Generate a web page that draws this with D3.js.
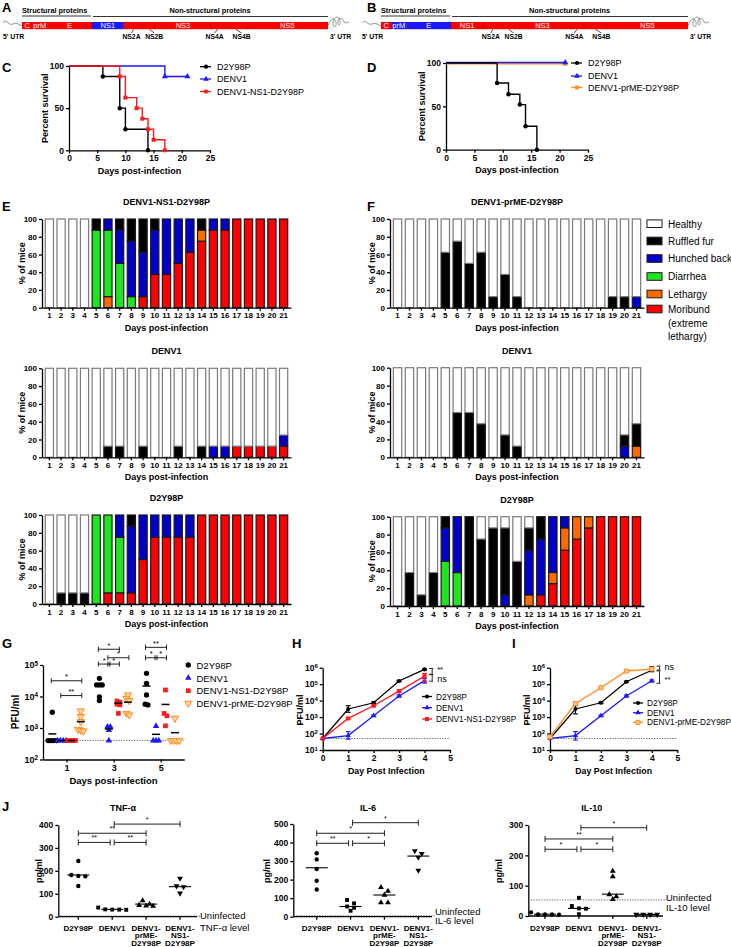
<!DOCTYPE html>
<html><head><meta charset="utf-8">
<script src="https://cdn.jsdelivr.net/npm/d3@7/dist/d3.min.js"></script>
<style>html,body{margin:0;padding:0;background:#fff;}svg{display:block;}</style>
</head><body>
<svg id="fig" width="731" height="947" xmlns="http://www.w3.org/2000/svg"></svg>
<script>
// ================= DATA =================
const genomeSegments = ["C","prM","E","NS1","NS2A","NS2B","NS3","NS4A","NS4B","NS5"];
const genomeLengths  = [114,166,495,352,218,130,619,150,248,900];

const survTicksX = [0,5,10,15,20,25];
const survTicksY = [0,50,100];
const survNamesC = ["D2Y98P","DENV1","DENV1-NS1-D2Y98P"];
const survNamesD = ["D2Y98P","DENV1","DENV1-prME-D2Y98P"];
const survDaysC_D2Y = [0,6,9,10,14];
const survPctC_D2Y  = [100,87.5,50,25,0];
const survDaysC_DENV1 = [0,17,21];
const survPctC_DENV1  = [100,87.5,87.5];
const survDaysC_NS1 = [0,9,10,12,13,14,15,17];
const survPctC_NS1  = [100,87.5,62.5,50,37.5,25,12.5,0];
const survDaysD_D2Y = [0,9,11,13,14,16];
const survPctD_D2Y  = [100,77,64,52,27,0];
const survDaysD_DENV1 = [0,21];
const survPctD_DENV1  = [100,100];
const survDaysD_prME = [0,21];
const survPctD_prME  = [100,100];

const days = [1,2,3,4,5,6,7,8,9,10,11,12,13,14,15,16,17,18,19,20,21];
const pctTicks = [0,20,40,60,80,100];
const symptomNames = ["Healthy","Ruffled fur","Hunched back","Diarrhea","Lethargy","Moribund"];
const stackTitlesE = ["DENV1-NS1-D2Y98P","DENV1","D2Y98P"];
const stackTitlesF = ["DENV1-prME-D2Y98P","DENV1","D2Y98P"];

// E: DENV1-NS1-D2Y98P
const eNS1_moribund = [0,0,0,0,0,0,0,0,12.5,37.5,37.5,50,62.5,75,87.5,87.5,100,100,100,100,100];
const eNS1_lethargy = [0,0,0,0,0,12.5,0,0,0,0,0,0,0,12.5,0,0,0,0,0,0,0];
const eNS1_diarrhea = [0,0,0,0,87.5,75,50,12.5,0,0,0,0,0,0,0,0,0,0,0,0,0];
const eNS1_hunched  = [0,0,0,0,0,12.5,37.5,62.5,50,50,62.5,50,37.5,0,12.5,12.5,0,0,0,0,0];
const eNS1_ruffled  = [0,0,0,0,12.5,0,12.5,25,37.5,12.5,0,0,0,12.5,0,0,0,0,0,0,0];
// E: DENV1
const eDENV1_moribund = [0,0,0,0,0,0,0,0,0,0,0,0,0,0,0,0,12.5,12.5,12.5,12.5,12.5];
const eDENV1_lethargy = [0,0,0,0,0,0,0,0,0,0,0,0,0,0,0,0,0,0,0,0,0];
const eDENV1_diarrhea = [0,0,0,0,0,0,0,0,0,0,0,0,0,0,0,0,0,0,0,0,0];
const eDENV1_hunched  = [0,0,0,0,0,0,0,0,0,0,0,0,0,0,12.5,12.5,0,0,0,0,12.5];
const eDENV1_ruffled  = [0,0,0,0,0,12.5,12.5,0,12.5,0,0,12.5,0,12.5,0,0,0,0,0,0,0];
// E: D2Y98P
const eD2Y_moribund = [0,0,0,0,0,12.5,12.5,12.5,50,75,75,75,75,100,100,100,100,100,100,100,100];
const eD2Y_lethargy = [0,0,0,0,0,0,0,0,0,0,0,0,0,0,0,0,0,0,0,0,0];
const eD2Y_diarrhea = [0,0,0,0,100,87.5,62.5,0,0,0,0,0,0,0,0,0,0,0,0,0,0];
const eD2Y_hunched  = [0,0,0,0,0,0,25,75,50,25,25,25,25,0,0,0,0,0,0,0,0];
const eD2Y_ruffled  = [0,12.5,12.5,12.5,0,0,0,12.5,0,0,0,0,0,0,0,0,0,0,0,0,0];
// F: DENV1-prME-D2Y98P
const fPrME_moribund = [0,0,0,0,0,0,0,0,0,0,0,0,0,0,0,0,0,0,0,0,0];
const fPrME_lethargy = [0,0,0,0,0,0,0,0,0,0,0,0,0,0,0,0,0,0,0,0,0];
const fPrME_diarrhea = [0,0,0,0,0,0,0,0,0,0,0,0,0,0,0,0,0,0,0,0,0];
const fPrME_hunched  = [0,0,0,0,0,0,0,0,0,0,0,0,0,0,0,0,0,0,0,0,12.5];
const fPrME_ruffled  = [0,0,0,0,62.5,75,50,62.5,12.5,37.5,12.5,0,0,0,0,0,0,0,12.5,12.5,0];
// F: DENV1
const fDENV1_moribund = [0,0,0,0,0,0,0,0,0,0,0,0,0,0,0,0,0,0,0,0,0];
const fDENV1_lethargy = [0,0,0,0,0,0,0,0,0,0,0,0,0,0,0,0,0,0,0,0,12.5];
const fDENV1_diarrhea = [0,0,0,0,0,0,0,0,0,0,0,0,0,0,0,0,0,0,0,0,0];
const fDENV1_hunched  = [0,0,0,0,0,0,0,0,0,0,0,0,0,0,0,0,0,0,0,12.5,0];
const fDENV1_ruffled  = [0,0,0,0,0,50,50,37.5,0,25,12.5,0,0,0,0,0,0,0,0,12.5,25];
// F: D2Y98P
const fD2Y_moribund = [0,0,0,0,0,0,0,0,0,0,0,0,12.5,25,62.5,75,87.5,100,100,100,100];
const fD2Y_lethargy = [0,0,0,0,0,0,0,0,0,0,0,12.5,0,12.5,25,25,12.5,0,0,0,0];
const fD2Y_diarrhea = [0,0,0,0,50,37.5,0,0,0,0,0,0,0,0,0,0,0,0,0,0,0];
const fD2Y_hunched  = [0,0,0,0,37.5,62.5,0,0,0,12.5,0,50,62.5,62.5,12.5,0,0,0,0,0,0];
const fD2Y_ruffled  = [0,37.5,12.5,37.5,12.5,0,100,75,87.5,75,50,25,25,0,0,0,0,0,0,0,0];

// G: viremia (PFU/ml) per day 1,3,5
const gDays = [1,3,5];
const gNames = ["D2Y98P","DENV1","DENV1-NS1-D2Y98P","DENV1-prME-D2Y98P"];
const gTicks = [1e2,1e3,1e4,1e5];
const gLOD = 400;
const gD2Y   = [[3160,400,400,400,400],[37800,23300,23300,23300,9800,7400],[54500,26300,11200,5700,5400]];
const gDENV1 = [[400,400,400,400],[1100,1100,860,400],[1150,400,400,400]];
const gNS1   = [[400,400,400,400],[7200,6600,5700,5400,2900],[16100,2900,2450,1170]];
const gPrME  = [[3460,2300,1590,900,850,800],[11200,8700,7400,2900,2600],[2040,400,400,400,400]];
const gMeanD2Y   = [650,23300,21500];
const gMeanDENV1 = [400,930,630];
const gMeanNS1   = [400,6100,5600];
const gMeanPrME  = [1590,6600,710];
// [day, series A, series B, PFU level, label]
const gSig = [[1,0,3,31600,"*"],[1,1,3,10700,"**"],[3,0,2,316000,"*"],[3,1,3,170000,"*"],
              [3,0,1,107000,"*"],[3,1,2,107000,"*"],[5,0,2,363000,"**"],[5,0,1,170000,"*"],[5,1,2,170000,"*"]];

// H / I: growth kinetics
const hDaysArr = [0,1,2,3,4];
const hTicksX = [0,1,2,3,4,5];
const hTicksY = [1e1,1e2,1e3,1e4,1e5,1e6];
const hLOD = 50;
const hD2Y    = [50,3100,7400,155000,790000];
const hD2YLo  = [50,1950,6600,140000,700000];
const hD2YHi  = [50,4900,8300,170000,880000];
const hDENV1   = [50,75,1200,19000,165000];
const hDENV1Lo = [50,45,1080,16500,115000];
const hDENV1Hi = [50,130,1330,22000,225000];
const hNS1    = [50,830,4900,38000,310000];
const hNS1Lo  = [50,740,4300,34000,140000];
const hNS1Hi  = [50,930,5500,42000,450000];
const hSig = [[900000,400000,"**"],[380000,150000,"ns"]];
const iD2Y    = [50,3100,7400,140000,700000];
const iD2YLo  = [50,1550,6600,125000,570000];
const iD2YHi  = [50,4900,8300,155000,1150000];
const iDENV1   = [50,75,1200,19000,160000];
const iDENV1Lo = [50,40,1080,16500,140000];
const iDENV1Hi = [50,130,1330,22000,180000];
const iPrME   = [62,6700,61000,630000,830000];
const iPrMELo = [55,5600,55000,580000,760000];
const iPrMEHi = [70,8000,67000,690000,910000];
const iSig = [[1250000,720000,"ns"],[640000,112000,"**"]];
const hNames = ["D2Y98P","DENV1","DENV1-NS1-D2Y98P"];
const iNames = ["D2Y98P","DENV1","DENV1-prME-D2Y98P"];

// J: cytokines (pg/ml)
const cytoGroups = ["D2Y98P","DENV1","DENV1-\nprME-\nD2Y98P","DENV1-\nNS1-\nD2Y98P"];
const tnfTicks = [0,100,200,300,400];
const tnfValues = [[243,182,178,176,134],[40,32,31,31,30],[70,55,50,47,46],[167,134,130,102]];
const tnfMedians = [182,32,55,131];
const tnfUninfected = 3;
const tnfSig = [[1,3,404,"*"],[0,2,364,"**"],[0,1,324,"**"],[1,2,324,"**"]];
const il6Ticks = [0,100,200,300,400,500];
const il6Values = [[342,309,257,194,147],[90,72,55,48,32],[158,138,117,76,76],[355,340,320,250]];
const il6Medians = [264,55,117,327];
const il6Uninfected = 5;
const il6Sig = [[1,3,507,"*"],[0,2,450,"*"],[0,1,396,"**"],[1,2,396,"*"]];
const il10Ticks = [0,100,200,300];
const il10Values = [[12,5,5,5,4],[60,33,25,24,6],[148,130,71,64,55],[5,5,5,5]];
const il10Medians = [6,25,72,5];
const il10Uninfected = 53;
const il10Sig = [[1,3,291,"*"],[0,2,254,"**"],[0,1,220,"*"],[1,2,220,"*"]];

// ================= DRAWING =================
const FONT = "'Liberation Sans', Arial, Helvetica, sans-serif";
const svg = d3.select("#fig").attr("font-family", FONT);
const COL = {black:"#000000", blue:"#1a1aff", red:"#ff1a1a", orange:"#ff8c1a"};
const symColor = {healthy:"#ffffff", ruffled:"#000000", hunched:"#0000c8", diarrhea:"#1ee61e", lethargy:"#ff6a00", moribund:"#ff0000"};
const stackKeys = ["moribund","lethargy","diarrhea","hunched","ruffled","healthy"];
const intFmt = d3.format("d");

function T(g, x, y, s, o = {}) {
  return g.append("text").attr("x", x).attr("y", y).text(s)
    .attr("font-size", o.size || 9).attr("font-weight", o.bold ? "bold" : "normal")
    .attr("text-anchor", o.anchor || "start").attr("fill", o.fill || "#000");
}
function VT(g, cx, cy, s, size) {
  g.append("text").attr("transform", `translate(${cx},${cy}) rotate(-90)`)
    .attr("text-anchor", "middle").attr("dy", "0.35em").attr("font-size", size)
    .attr("font-weight", "bold").text(s);
}
function styleAxis(a, fs) {
  a.attr("font-family", FONT).attr("font-size", fs);
  a.selectAll(".domain").attr("stroke", "#000").attr("stroke-width", 1.3);
  a.selectAll(".tick line").attr("stroke", "#000").attr("stroke-width", 1.3);
  a.selectAll(".tick text").attr("font-weight", "bold").attr("fill", "#000");
}
function supLabels(a) {
  a.selectAll(".tick text").each(function (d) {
    const t = d3.select(this); t.text("");
    t.append("tspan").text("10");
    t.append("tspan").attr("dy", "-0.45em").attr("font-size", "0.7em").text(Math.round(Math.log10(d)));
  });
}
function marker(g, type, cx, cy, size, fill, stroke, rot) {
  const types = {circle: d3.symbolCircle, square: d3.symbolSquare, triangle: d3.symbolTriangle};
  g.append("path").attr("d", d3.symbol().type(types[type]).size(size)())
    .attr("transform", `translate(${cx},${cy})${rot ? " rotate(180)" : ""}`)
    .attr("fill", fill).attr("stroke", stroke || "none").attr("stroke-width", stroke ? 1 : 0);
}
function dodge(vals, y, minDy, dx) {
  const items = vals.map((v, i) => ({i, y: y(v)})).sort((a, b) => a.y - b.y);
  const rows = [];
  items.forEach(it => {
    const r = rows.find(r => Math.abs(r.y - it.y) < minDy);
    if (r) r.items.push(it); else rows.push({y: it.y, items: [it]});
  });
  const off = [];
  rows.forEach(r => { const n = r.items.length; r.items.forEach((it, k) => off[it.i] = (k - (n - 1) / 2) * dx); });
  return off;
}

// ---------- Panel letters ----------
[["A",2,12],["B",367,12],["C",2,72],["D",367,72],["E",2,211],["F",367,211],["G",2,648],["H",292,648],["I",512,648],["J",2,811]]
  .forEach(([l, x, y]) => T(svg, x, y, l, {size: 13, bold: true}));

// ---------- Genomes A / B ----------
function genome(x0, x1, blueIdx) {
  const g = svg.append("g");
  const cum = [0]; genomeLengths.forEach(l => cum.push(cum[cum.length - 1] + l));
  const x = d3.scaleLinear([0, cum[cum.length - 1]], [x0, x1]);
  const by = 22, bh = 7.2;
  g.append("path").attr("d", `M${x0-19},22.5 q2.5,-3 5,0 t5,1.5 t5,0 t4,1.5`)
    .attr("fill", "none").attr("stroke", "#777").attr("stroke-width", 0.8);
  g.append("path").attr("d", `M${x1},26 c3,-9 7,-9 8,-3 c1,5 -4,5 -3,-1 c1,-6 6,-7 7,-1 c1,5 -3,5 -2,0 c1,-4 5,-3 6,1 q2,2 5,0`)
    .attr("fill", "none").attr("stroke", "#777").attr("stroke-width", 0.8);
  genomeSegments.forEach((s, i) => {
    g.append("rect").attr("x", x(cum[i])).attr("y", by).attr("width", x(cum[i + 1]) - x(cum[i])).attr("height", bh)
      .attr("fill", blueIdx.includes(i) ? "#1a1aff" : "#ff0000");
  });
  for (let i = 1; i < genomeSegments.length; i++) {
    g.append("line").attr("x1", x(cum[i])).attr("x2", x(cum[i])).attr("y1", by).attr("y2", by + bh)
      .attr("stroke", "#7a0000").attr("stroke-width", 0.6);
  }
  [0,1,2,3,6,9].forEach(i => T(g, (x(cum[i]) + x(cum[i + 1])) / 2, by + 5.8, genomeSegments[i], {size: 7.5, anchor: "middle", fill: "#fff"}));
  const offs = {4: -2, 5: 5, 7: -3, 8: 6};
  [4,5,7,8].forEach(i => {
    const c = (x(cum[i]) + x(cum[i + 1])) / 2, lx = c + offs[i];
    g.append("line").attr("x1", c).attr("y1", by + bh).attr("x2", lx).attr("y2", 33).attr("stroke", "#000").attr("stroke-width", 0.7);
    T(g, lx, 39, genomeSegments[i], {size: 6.8, bold: true, anchor: "middle"});
  });
  const xs = x(cum[3]);
  T(g, x0, 13, "Structural proteins", {size: 7.3, bold: true});
  g.append("line").attr("x1", x0).attr("x2", xs - 1).attr("y1", 16).attr("y2", 16).attr("stroke", "#000").attr("stroke-width", 0.8);
  T(g, (xs + x1) / 2, 13, "Non-structural proteins", {size: 7.3, bold: true, anchor: "middle"});
  g.append("line").attr("x1", xs + 1).attr("x2", x1).attr("y1", 16.5).attr("y2", 16.5).attr("stroke", "#000").attr("stroke-width", 0.8);
  T(g, x0 - 19, 39, "5' UTR", {size: 6.8, bold: true});
  T(g, x1 + 2, 39, "3' UTR", {size: 6.8, bold: true});
}
genome(22, 328, [3]);
genome(381, 688, [1, 2]);

// ---------- Survival C / D ----------
function survival(cfg) {
  const g = svg.append("g");
  const x = d3.scaleLinear([0, 25], [cfg.x0, cfg.x1]);
  const y = d3.scaleLinear([0, 100], [cfg.yb, cfg.yt]);
  const ax = g.append("g").attr("transform", `translate(0,${cfg.yb})`)
    .call(d3.axisBottom(x).tickValues(survTicksX).tickFormat(intFmt).tickSize(3).tickSizeOuter(0).tickPadding(2));
  styleAxis(ax, 8.5);
  const ay = g.append("g").attr("transform", `translate(${cfg.x0},0)`)
    .call(d3.axisLeft(y).tickValues(survTicksY).tickFormat(intFmt).tickSize(3).tickSizeOuter(0).tickPadding(2));
  styleAxis(ay, 8.5);
  VT(g, cfg.x0 - 24, (cfg.yb + cfg.yt) / 2, "Percent survival", 9);
  T(g, (cfg.x0 + cfg.x1) / 2, cfg.yb + 23.5, "Days post-infection", {size: 9, bold: true, anchor: "middle"});
  const line = d3.line().x(d => x(d[0])).y(d => y(d[1])).curve(d3.curveStepAfter);
  cfg.drawOrder.forEach(si => {
    const s = cfg.series[si];
    const pts = s.t.map((t, i) => [t, s.p[i]]);
    const sg = g.append("g").attr("transform", `translate(0,${s.dy || 0})`);
    sg.append("path").attr("d", line(pts)).attr("fill", "none").attr("stroke", s.color).attr("stroke-width", 1.4);
    pts.slice(1).forEach(p => marker(sg, s.sym, x(p[0]), y(p[1]), s.size || 16, s.color));
  });
  cfg.series.forEach((s, i) => {
    const ly = cfg.legY[i];
    g.append("line").attr("x1", cfg.legX - 6).attr("x2", cfg.legX + 5).attr("y1", ly).attr("y2", ly).attr("stroke", s.color).attr("stroke-width", 1.3);
    marker(g, s.sym, cfg.legX, ly, 14, s.color);
    T(g, cfg.legX + 11, ly + 3.3, s.name, {size: 9});
  });
}
survival({x0: 69, x1: 210, yb: 150.3, yt: 66, legX: 206, legY: [66.7, 79, 91.5], drawOrder: [1, 0, 2], series: [
  {name: survNamesC[0], t: survDaysC_D2Y, p: survPctC_D2Y, color: COL.black, sym: "circle"},
  {name: survNamesC[1], t: survDaysC_DENV1, p: survPctC_DENV1, color: COL.blue, sym: "triangle"},
  {name: survNamesC[2], t: survDaysC_NS1, p: survPctC_NS1, color: COL.red, sym: "square"}]});
survival({x0: 446, x1: 588, yb: 149.7, yt: 63, legX: 577, legY: [63, 76, 87.5], drawOrder: [2, 1, 0], series: [
  {name: survNamesD[0], t: survDaysD_D2Y, p: survPctD_D2Y, color: COL.black, sym: "circle"},
  {name: survNamesD[1], t: survDaysD_DENV1, p: survPctD_DENV1, color: COL.blue, sym: "triangle", dy: -0.5},
  {name: survNamesD[2], t: survDaysD_prME, p: survPctD_prME, color: COL.orange, sym: "square", dy: 0.8}]});

// ---------- Stacked bars E / F ----------
function stacked(cfg, data) {
  const g = svg.append("g");
  const x = d3.scaleBand(days, [cfg.x0, cfg.x1]).paddingInner(0.3).paddingOuter(0.28);
  const y = d3.scaleLinear([0, 100], [cfg.yb, cfg.yt]);
  const rows = days.map((d, i) => {
    const r = {day: d}; let s = 0;
    stackKeys.slice(0, 5).forEach(k => { r[k] = data[k][i]; s += data[k][i]; });
    r.healthy = 100 - s; return r;
  });
  const layers = d3.stack().keys(stackKeys)(rows);
  layers.forEach(layer => layer.forEach(seg => {
    if (seg[1] - seg[0] <= 0) return;
    g.append("rect").attr("x", x(seg.data.day)).attr("width", x.bandwidth())
      .attr("y", y(seg[1])).attr("height", y(seg[0]) - y(seg[1]))
      .attr("fill", symColor[layer.key])
      .attr("stroke", layer.key === "healthy" ? "#7a7a7a" : "#1a1a1a").attr("stroke-width", 1.2);
  }));
  const ax = g.append("g").attr("transform", `translate(0,${cfg.yb})`)
    .call(d3.axisBottom(x).tickSize(3).tickSizeOuter(0).tickPadding(2));
  styleAxis(ax, 8);
  const ay = g.append("g").attr("transform", `translate(${cfg.x0},0)`)
    .call(d3.axisLeft(y).tickValues(pctTicks).tickFormat(intFmt).tickSize(3).tickSizeOuter(0).tickPadding(2));
  styleAxis(ay, 8);
  const cx = (cfg.x0 + cfg.x1) / 2;
  T(g, cx, cfg.yt - 14, cfg.title, {size: 9, bold: true, anchor: "middle"});
  T(g, cx, cfg.yb + 23, "Days post-infection", {size: 9, bold: true, anchor: "middle"});
  VT(g, cfg.yl, (cfg.yt + cfg.yb) / 2, "% of mice", 9);
}
const pack = (m, l, d, h, r) => ({moribund: m, lethargy: l, diarrhea: d, hunched: h, ruffled: r});
const eRows = [[219, 307.7], [368.3, 457.3], [515, 604]];
const fRows = [[219, 307.7], [367.7, 457.3], [516.7, 606]];
const eData = [pack(eNS1_moribund, eNS1_lethargy, eNS1_diarrhea, eNS1_hunched, eNS1_ruffled),
               pack(eDENV1_moribund, eDENV1_lethargy, eDENV1_diarrhea, eDENV1_hunched, eDENV1_ruffled),
               pack(eD2Y_moribund, eD2Y_lethargy, eD2Y_diarrhea, eD2Y_hunched, eD2Y_ruffled)];
const fData = [pack(fPrME_moribund, fPrME_lethargy, fPrME_diarrhea, fPrME_hunched, fPrME_ruffled),
               pack(fDENV1_moribund, fDENV1_lethargy, fDENV1_diarrhea, fDENV1_hunched, fDENV1_ruffled),
               pack(fD2Y_moribund, fD2Y_lethargy, fD2Y_diarrhea, fD2Y_hunched, fD2Y_ruffled)];
eRows.forEach((r, i) => stacked({x0: 42, x1: 291, yt: r[0], yb: r[1], title: stackTitlesE[i], yl: 22}, eData[i]));
fRows.forEach((r, i) => stacked({x0: 390, x1: 644, yt: r[0], yb: r[1], title: stackTitlesF[i], yl: 372}, fData[i]));
(function () {
  const g = svg.append("g");
  const legKeys = ["healthy","ruffled","hunched","diarrhea","lethargy","moribund"];
  const ys = [223.7, 241, 258.5, 276.5, 294, 309];
  legKeys.forEach((k, i) => {
    g.append("rect").attr("x", 647).attr("y", ys[i] - 3.8).attr("width", 15).attr("height", 7.6)
      .attr("fill", symColor[k]).attr("stroke", "#1a1a1a").attr("stroke-width", 1);
    T(g, 668, ys[i] + 3.8, symptomNames[i], {size: 10});
  });
  T(g, 668, 326.5, "(extreme", {size: 10});
  T(g, 668, 339.5, "lethargy)", {size: 10});
})();

// ---------- Panel G ----------
(function () {
  const g = svg.append("g");
  const x = d3.scaleLinear([0, 6], [43, 184.3]);
  const y = d3.scaleLog([100, 1e5], [759.5, 665]);
  const sx = d3.scaleBand([0, 1, 2, 3], [-19, 19]);
  const ax = g.append("g").attr("transform", `translate(0,759.5)`)
    .call(d3.axisBottom(x).tickValues(gDays).tickFormat(intFmt).tickSize(3).tickSizeOuter(0).tickPadding(2));
  styleAxis(ax, 9);
  const ay = g.append("g").attr("transform", `translate(43,0)`)
    .call(d3.axisLeft(y).tickValues(gTicks).tickSize(3).tickSizeOuter(0).tickPadding(2));
  styleAxis(ay, 9); supLabels(ay);
  VT(g, 15, 712, "PFU/ml", 10);
  T(g, 113.5, 784, "Days post-infection", {size: 9.5, bold: true, anchor: "middle"});
  g.append("line").attr("x1", 43).attr("x2", 184).attr("y1", y(gLOD)).attr("y2", y(gLOD))
    .attr("stroke", "#444").attr("stroke-width", 0.8).attr("stroke-dasharray", "1.3,1.3");
  const ser = [
    {vals: gD2Y, mean: gMeanD2Y, color: "#000", sym: "circle", fill: "#000", size: 22},
    {vals: gDENV1, mean: gMeanDENV1, color: COL.blue, sym: "triangle", fill: COL.blue, size: 18},
    {vals: gNS1, mean: gMeanNS1, color: "#ff1a1a", sym: "square", fill: "#ff1a1a", size: 22},
    {vals: gPrME, mean: gMeanPrME, color: COL.orange, sym: "triangle", fill: "#ffd2a0", size: 22, rot: true}];
  const cxOf = (di, si) => x(gDays[di]) + sx(si) + sx.bandwidth() / 2;
  ser.forEach((s, si) => s.vals.forEach((vals, di) => {
    const cx = cxOf(di, si);
    const off = dodge(vals, y, 2.6, 2.8);
    vals.forEach((v, k) => marker(g, s.sym, cx + off[k], y(v), s.size, s.fill, s.rot ? s.color : null, s.rot));
  }));
  ser.forEach((s, si) => s.vals.forEach((vals, di) => {
    const cx = cxOf(di, si);
    g.append("line").attr("x1", cx - 4).attr("x2", cx + 4).attr("y1", y(s.mean[di])).attr("y2", y(s.mean[di]))
      .attr("stroke", "#000").attr("stroke-width", 1.5);
  }));
  gSig.forEach(([d, a, b, v, lab]) => {
    const di = gDays.indexOf(d);
    const xa = cxOf(di, a) - 1, xb = cxOf(di, b) + 1, yy = y(v);
    g.append("line").attr("x1", xa).attr("x2", xb).attr("y1", yy).attr("y2", yy).attr("stroke", "#222").attr("stroke-width", 1);
    [xa, xb].forEach(xx => g.append("line").attr("x1", xx).attr("x2", xx).attr("y1", yy - 2.5).attr("y2", yy + 2.5).attr("stroke", "#222").attr("stroke-width", 1));
    T(g, (xa + xb) / 2, yy - 1.5, lab, {size: 7.5, anchor: "middle"});
  });
  const ly = [665, 678, 690.7, 703.3];
  ser.forEach((s, i) => {
    marker(g, s.sym, 188.3, ly[i], s.size, s.fill, s.rot ? s.color : null, s.rot);
    T(g, 196.5, ly[i] + 3.5, gNames[i], {size: 9.5});
  });
})();

// ---------- Panels H / I ----------
function growth(cfg) {
  const g = svg.append("g");
  const x = d3.scaleLinear([0, 5], [cfg.x0, cfg.x1]);
  const y = d3.scaleLog([10, 1e6], [750, 667.7]);
  const ax = g.append("g").attr("transform", `translate(0,750)`)
    .call(d3.axisBottom(x).tickValues(hTicksX).tickFormat(intFmt).tickSize(3).tickSizeOuter(0).tickPadding(2));
  styleAxis(ax, 8.5);
  const ay = g.append("g").attr("transform", `translate(${cfg.x0},0)`)
    .call(d3.axisLeft(y).tickValues(hTicksY).tickSize(3).tickSizeOuter(0).tickPadding(2));
  styleAxis(ay, 8.5); supLabels(ay);
  VT(g, cfg.x0 - 23, 710, "PFU/ml", 9);
  T(g, (cfg.x0 + cfg.x1) / 2, 774, "Day Post Infection", {size: 8.8, bold: true, anchor: "middle"});
  g.append("line").attr("x1", cfg.x0).attr("x2", cfg.x1).attr("y1", y(hLOD)).attr("y2", y(hLOD))
    .attr("stroke", "#444").attr("stroke-width", 0.8).attr("stroke-dasharray", "1.3,1.3");
  const line = d3.line().x((d, i) => x(hDaysArr[i])).y(d => y(d));
  cfg.series.forEach(s => {
    g.append("path").attr("d", line(s.v)).attr("fill", "none").attr("stroke", s.color).attr("stroke-width", 1.3);
    s.v.forEach((v, i) => {
      const xx = x(hDaysArr[i]);
      if (s.hi[i] / s.lo[i] > 1.15) {
        g.append("line").attr("x1", xx).attr("x2", xx).attr("y1", y(s.hi[i])).attr("y2", y(s.lo[i])).attr("stroke", s.color).attr("stroke-width", 1.1);
        [s.hi[i], s.lo[i]].forEach(e => g.append("line").attr("x1", xx - 2.5).attr("x2", xx + 2.5).attr("y1", y(e)).attr("y2", y(e)).attr("stroke", s.color).attr("stroke-width", 1.1));
      }
      marker(g, s.sym, xx, y(v), s.size || 13, s.fill || s.color, s.stroke || null);
    });
  });
  const bx = x(4.3);
  cfg.sig.forEach(([hi, lo, lab], k) => {
    g.append("line").attr("x1", bx).attr("x2", bx).attr("y1", y(hi) + 0.4).attr("y2", y(lo) - 0.4).attr("stroke", "#222").attr("stroke-width", 1);
    [hi, lo].forEach(e => g.append("line").attr("x1", bx - 3).attr("x2", bx + 1).attr("y1", y(e)).attr("y2", y(e)).attr("stroke", "#222").attr("stroke-width", 1));
    const mid = (y(hi) + y(lo)) / 2;
    T(g, bx + 5, mid + cfg.sigDy[k], lab, {size: lab === "ns" ? 9 : 7.5});
  });
  cfg.series.forEach((s, i) => {
    const ly = cfg.legY[i];
    g.append("line").attr("x1", cfg.legX - 5).attr("x2", cfg.legX + 5).attr("y1", ly).attr("y2", ly).attr("stroke", s.color).attr("stroke-width", 1.3);
    marker(g, s.sym, cfg.legX, ly, s.size || 13, s.fill || s.color, s.stroke || null);
    T(g, cfg.legX + 9, ly + 3, cfg.names[i], {size: 8.3});
  });
}
growth({x0: 322.7, x1: 450, legX: 427, legY: [696.5, 707.7, 719], names: hNames, sig: hSig, sigDy: [0.5, 4.2], series: [
  {v: hD2Y, lo: hD2YLo, hi: hD2YHi, color: "#000", sym: "circle"},
  {v: hDENV1, lo: hDENV1Lo, hi: hDENV1Hi, color: COL.blue, sym: "triangle"},
  {v: hNS1, lo: hNS1Lo, hi: hNS1Hi, color: "#ff1a1a", sym: "square", size: 16}]});
growth({x0: 550, x1: 677.3, legX: 638, legY: [703, 712.7, 722.3], names: iNames, sig: iSig, sigDy: [2.3, 4.8], series: [
  {v: iD2Y, lo: iD2YLo, hi: iD2YHi, color: "#000", sym: "circle"},
  {v: iDENV1, lo: iDENV1Lo, hi: iDENV1Hi, color: COL.blue, sym: "triangle"},
  {v: iPrME, lo: iPrMELo, hi: iPrMEHi, color: COL.orange, sym: "square", size: 16, fill: "#ffc890", stroke: COL.orange}]});

// ---------- Panel J ----------
function cyto(cfg) {
  const g = svg.append("g");
  const x = d3.scalePoint([0, 1, 2, 3], [cfg.c0, cfg.c1]);
  const y = d3.scaleLinear([0, cfg.max], [cfg.y0, cfg.yt]);
  const ay = g.append("g").attr("transform", `translate(${cfg.ax},0)`)
    .call(d3.axisLeft(y).tickValues(cfg.ticks).tickFormat(intFmt).tickSize(3).tickSizeOuter(0).tickPadding(2));
  styleAxis(ay, 8.5);
  g.append("line").attr("x1", cfg.ax).attr("x2", cfg.xEnd).attr("y1", y(0)).attr("y2", y(0)).attr("stroke", "#000").attr("stroke-width", 1.3);
  [0, 1, 2, 3].forEach(i => g.append("line").attr("x1", x(i)).attr("x2", x(i)).attr("y1", y(0)).attr("y2", y(0) + 3).attr("stroke", "#000").attr("stroke-width", 1.3));
  g.append("line").attr("x1", cfg.ax).attr("x2", cfg.xEnd + 4).attr("y1", y(cfg.uninf)).attr("y2", y(cfg.uninf))
    .attr("stroke", "#444").attr("stroke-width", 0.8).attr("stroke-dasharray", "1.3,1.3");
  const syms = [["circle", false], ["square", false], ["triangle", false], ["triangle", true]];
  cfg.values.forEach((vals, gi) => {
    const off = dodge(vals, y, 4, 7);
    vals.forEach((v, k) => marker(g, syms[gi][0], x(gi) + off[k], y(v), 15, "#000", null, syms[gi][1]));
    g.append("line").attr("x1", x(gi) - 11).attr("x2", x(gi) + 11).attr("y1", y(cfg.medians[gi])).attr("y2", y(cfg.medians[gi]))
      .attr("stroke", "#000").attr("stroke-width", 1.1);
  });
  cfg.sig.forEach(([a, b, v, lab]) => {
    const xa = x(a) + (a === 1 ? 2 : 0), xb = x(b) - (b === 1 ? 2 : 0), yy = y(v);
    g.append("line").attr("x1", xa).attr("x2", xb).attr("y1", yy).attr("y2", yy).attr("stroke", "#222").attr("stroke-width", 1);
    [xa, xb].forEach(xx => g.append("line").attr("x1", xx).attr("x2", xx).attr("y1", yy - 3).attr("y2", yy + 3).attr("stroke", "#222").attr("stroke-width", 1));
    T(g, (xa + xb) / 2, yy - 2, lab, {size: 7, anchor: "middle"});
  });
  cytoGroups.forEach((lab, i) => lab.split("\n").forEach((ln, j) =>
    T(g, x(i), 930.5 + j * 7.6, ln, {size: 8, bold: true, anchor: "middle"})));
  T(g, cfg.titleX, 811, cfg.title, {size: 9, bold: true, anchor: "middle"});
  VT(g, cfg.yTitleX, 871, "pg/ml", 9);
  T(g, cfg.xEnd + 3, cfg.ly1, "Uninfected", {size: 9.5});
  T(g, cfg.xEnd + 3, cfg.ly2, cfg.levelLabel, {size: 9.5});
}
cyto({ax: 58.3, c0: 78.3, c1: 180, xEnd: 197, max: 400, y0: 916.7, yt: 825, ticks: tnfTicks, values: tnfValues, titleX: 123, yTitleX: 39,
  medians: tnfMedians, uninf: tnfUninfected, sig: tnfSig, title: "TNF-α", levelLabel: "TNF-α level", ly1: 918.5, ly2: 930.8});
cyto({ax: 293.3, c0: 316.7, c1: 418.3, xEnd: 432, max: 500, y0: 916.7, yt: 824, ticks: il6Ticks, values: il6Values, titleX: 368, yTitleX: 267,
  medians: il6Medians, uninf: il6Uninfected, sig: il6Sig, title: "IL-6", levelLabel: "IL-6 level", ly1: 914.5, ly2: 924.2});
cyto({ax: 528.3, c0: 545, c1: 646.7, xEnd: 663, max: 300, y0: 916, yt: 825, ticks: il10Ticks, values: il10Values, titleX: 591.7, yTitleX: 498.5,
  medians: il10Medians, uninf: il10Uninfected, sig: il10Sig, title: "IL-10", levelLabel: "IL-10 level", ly1: 901.2, ly2: 911.2});
</script>
</body></html>
